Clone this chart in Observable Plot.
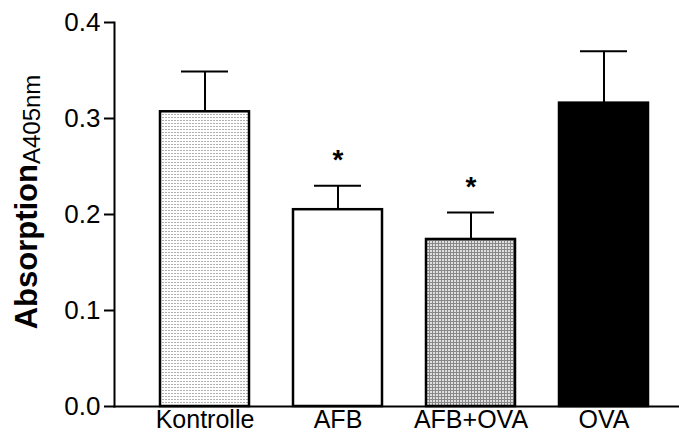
<!DOCTYPE html>
<html><head><meta charset="utf-8">
<script src="https://cdn.jsdelivr.net/npm/d3@7"></script>
<script src="https://cdn.jsdelivr.net/npm/@observablehq/plot@0.6"></script>
<style>
body{margin:0;background:#fff}
svg{font-family:"Liberation Sans",Arial,sans-serif}
</style>
</head><body><div id="chart"></div>
<script>
const groups = ["Kontrolle", "AFB", "AFB+OVA", "OVA"];
const means = [0.307, 0.205, 0.174, 0.316];
const sems = [0.042, 0.025, 0.028, 0.054];
const fills = ["url(#pKontrolle)", "#ffffff", "url(#pAfbOva)", "#000000"];
const significant = ["AFB", "AFB+OVA"];
const yTicks = [0, 0.1, 0.2, 0.3, 0.4];
const yLabelMain = "Absorption";
const yLabelSub = "A405nm";

const data = groups.map((g, i) => ({group: g, mean: means[i], sem: sems[i], fill: fills[i]}));
const stars = data.filter(d => significant.includes(d.group));

const plot = Plot.plot({
  width: 679, height: 434,
  marginLeft: 114, marginRight: 0, marginTop: 22, marginBottom: 28,
  style: {fontFamily: '"Liberation Sans", Arial, sans-serif', fontSize: "26px", color: "#000", background: "#fff", overflow: "visible"},
  x: {domain: groups, paddingInner: 0.333, paddingOuter: 0.283, align: 0.6, label: null},
  y: {domain: [0, 0.4], label: null},
  color: {type: "identity"},
  marks: [
    Plot.barY(data, {x: "group", y: "mean", fill: "fill", stroke: "#000", strokeWidth: 2.5}),
    Plot.ruleX(data, {x: "group", y1: "mean", y2: d => d.mean + d.sem, stroke: "#000", strokeWidth: 2}),
    Plot.tickY(data, {x: "group", y: d => d.mean + d.sem, stroke: "#000", strokeWidth: 2, insetLeft: 21, insetRight: 21}),
    Plot.text(stars, {x: "group", y: d => d.mean + d.sem, text: () => "*", dy: -17, fontSize: 28, fontWeight: "bold", lineAnchor: "bottom"}),
    Plot.axisY({ticks: yTicks, tickFormat: d3.format(".1f"), tickSize: 10, tickPadding: 4, strokeWidth: 2, label: null, fontSize: 26}),
    Plot.axisX({tickSize: 0, tickPadding: 4, label: null, fontSize: 25}),
    Plot.frame({anchor: "left", stroke: "#000", strokeWidth: 2}),
    Plot.frame({anchor: "bottom", stroke: "#000", strokeWidth: 2})
  ]
});

const svg = d3.select(plot);
const defs = svg.insert("defs", ":first-child");
const p1 = defs.append("pattern").attr("id", "pKontrolle").attr("patternUnits", "userSpaceOnUse").attr("width", 3).attr("height", 3);
p1.append("rect").attr("width", 3).attr("height", 3).attr("fill", "#ffffff");
p1.append("rect").attr("width", 2).attr("height", 1).attr("fill", "#b0b0b0");
const p2 = defs.append("pattern").attr("id", "pAfbOva").attr("patternUnits", "userSpaceOnUse").attr("width", 3).attr("height", 3);
p2.append("rect").attr("width", 3).attr("height", 3).attr("fill", "#e0e0e0");
p2.append("rect").attr("width", 3).attr("height", 1).attr("fill", "#888888");
p2.append("rect").attr("width", 1).attr("height", 3).attr("fill", "#888888");

const lab = svg.append("text")
  .attr("transform", "translate(37,202) rotate(-90)")
  .attr("text-anchor", "middle")
  .attr("fill", "#000");
lab.append("tspan").attr("font-size", "31px").attr("font-weight", "bold").text(yLabelMain);
lab.append("tspan").attr("font-size", "24px").attr("dy", 3).text(yLabelSub);

document.getElementById("chart").appendChild(plot);
</script>
</body></html>
